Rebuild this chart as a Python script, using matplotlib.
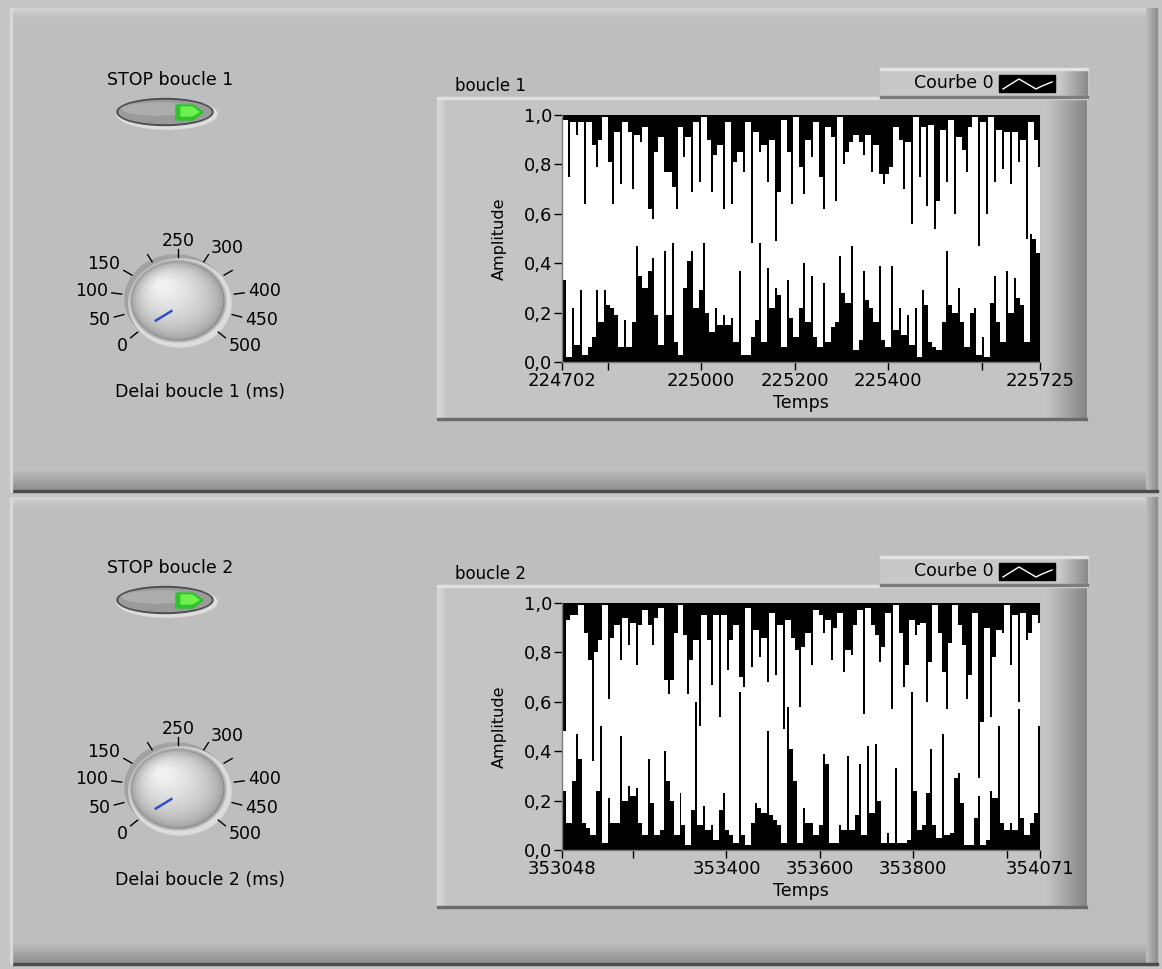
import numpy as np
import matplotlib
matplotlib.use("Agg")
import matplotlib.pyplot as plt
import matplotlib.colors as mcolors
from matplotlib.patches import Rectangle, Ellipse, Polygon

plt.rcParams["font.family"] = ["DejaVu Sans"]

# ---- data (upper / lower envelope per column) ----
hi_1 = [0.98, 0.75, 0.97, 0.92, 0.97, 0.64, 0.97, 0.88, 0.79, 0.90,
        0.99, 0.81, 0.64, 0.93, 0.72, 0.97, 0.93, 0.70, 0.92, 0.89,
        0.95, 0.62, 0.58, 0.85, 0.91, 0.77, 0.77, 0.71, 0.62, 0.95,
        0.83, 0.91, 0.69, 0.97, 0.73, 0.99, 0.90, 0.69, 0.84, 0.88,
        0.62, 0.97, 0.64, 0.81, 0.85, 0.77, 0.97, 0.48, 0.93, 0.85,
        0.88, 0.73, 0.90, 0.49, 0.69, 0.98, 0.85, 0.64, 0.99, 0.79,
        0.68, 0.90, 0.83, 0.97, 0.75, 0.62, 0.95, 0.91, 0.65, 0.99,
        0.80, 0.85, 0.89, 0.92, 0.89, 0.84, 0.92, 0.77, 0.88, 0.76,
        0.72, 0.76, 0.79, 0.95, 0.90, 0.70, 0.89, 0.56, 0.99, 0.75,
        0.95, 0.63, 0.96, 0.54, 0.65, 0.94, 0.73, 0.98, 0.60, 0.91,
        0.86, 0.77, 0.95, 0.99, 0.47, 0.97, 0.60, 0.99, 0.73, 0.94,
        0.78, 0.93, 0.72, 0.93, 0.81, 0.90, 0.50, 0.97, 0.90, 0.79]
lo_1 = [0.33, 0.02, 0.22, 0.07, 0.29, 0.03, 0.06, 0.10, 0.29, 0.16,
        0.29, 0.23, 0.22, 0.19, 0.06, 0.17, 0.06, 0.16, 0.47, 0.35,
        0.30, 0.37, 0.42, 0.19, 0.07, 0.45, 0.19, 0.48, 0.08, 0.03,
        0.30, 0.41, 0.45, 0.22, 0.29, 0.48, 0.20, 0.12, 0.22, 0.15,
        0.19, 0.15, 0.18, 0.08, 0.37, 0.03, 0.03, 0.10, 0.17, 0.48,
        0.08, 0.38, 0.22, 0.30, 0.27, 0.06, 0.33, 0.18, 0.10, 0.22,
        0.40, 0.16, 0.35, 0.10, 0.06, 0.32, 0.08, 0.14, 0.16, 0.43,
        0.28, 0.24, 0.47, 0.05, 0.09, 0.37, 0.25, 0.22, 0.16, 0.39,
        0.09, 0.06, 0.39, 0.13, 0.22, 0.11, 0.19, 0.07, 0.22, 0.02,
        0.29, 0.23, 0.08, 0.06, 0.05, 0.16, 0.45, 0.23, 0.20, 0.30,
        0.16, 0.06, 0.20, 0.22, 0.03, 0.10, 0.02, 0.24, 0.35, 0.16,
        0.08, 0.37, 0.20, 0.34, 0.26, 0.23, 0.08, 0.52, 0.50, 0.44]

hi_2 = [0.48, 0.93, 0.95, 0.95, 0.99, 0.88, 0.77, 0.36, 0.80, 0.85,
        0.99, 0.61, 0.86, 0.91, 0.77, 0.94, 0.83, 0.92, 0.75, 0.91,
        0.97, 0.91, 0.83, 0.94, 0.98, 0.69, 0.63, 0.69, 0.88, 0.99,
        0.87, 0.63, 0.77, 0.85, 0.50, 0.95, 0.85, 0.67, 0.95, 0.54,
        0.95, 0.73, 0.85, 0.91, 0.70, 0.66, 0.98, 0.74, 0.89, 0.78,
        0.86, 0.68, 0.96, 0.71, 0.91, 0.49, 0.93, 0.86, 0.81, 0.58,
        0.82, 0.88, 0.75, 0.97, 0.95, 0.88, 0.93, 0.77, 0.90, 0.96,
        0.72, 0.81, 0.79, 0.91, 0.97, 0.55, 0.98, 0.91, 0.87, 0.76,
        0.82, 0.96, 0.57, 0.99, 0.88, 0.66, 0.75, 0.93, 0.87, 0.91,
        0.92, 0.60, 0.76, 0.99, 0.88, 0.72, 0.57, 0.84, 0.99, 0.91,
        0.83, 0.61, 0.71, 0.96, 0.29, 0.52, 0.90, 0.54, 0.78, 0.89,
        0.88, 0.99, 0.75, 0.95, 0.60, 0.96, 0.85, 0.88, 0.95, 0.92]
lo_2 = [0.24, 0.11, 0.28, 0.47, 0.37, 0.11, 0.09, 0.06, 0.24, 0.50,
        0.03, 0.21, 0.11, 0.11, 0.46, 0.20, 0.26, 0.22, 0.25, 0.11,
        0.06, 0.37, 0.19, 0.06, 0.08, 0.40, 0.28, 0.20, 0.06, 0.23,
        0.10, 0.02, 0.16, 0.60, 0.10, 0.18, 0.08, 0.10, 0.04, 0.16,
        0.23, 0.08, 0.06, 0.03, 0.64, 0.06, 0.02, 0.11, 0.19, 0.17,
        0.15, 0.48, 0.14, 0.12, 0.10, 0.03, 0.58, 0.41, 0.28, 0.03,
        0.17, 0.11, 0.11, 0.06, 0.10, 0.39, 0.35, 0.03, 0.03, 0.10,
        0.08, 0.38, 0.08, 0.14, 0.35, 0.06, 0.42, 0.15, 0.43, 0.20,
        0.03, 0.07, 0.03, 0.33, 0.03, 0.03, 0.04, 0.64, 0.24, 0.08,
        0.10, 0.23, 0.41, 0.10, 0.05, 0.47, 0.06, 0.07, 0.29, 0.31,
        0.19, 0.02, 0.02, 0.13, 0.22, 0.02, 0.04, 0.24, 0.21, 0.50,
        0.11, 0.08, 0.11, 0.08, 0.57, 0.13, 0.06, 0.11, 0.15, 0.50]

t_start = [224702, 353048]
t_end = [225725, 354071]
y_ticks = [0.0, 0.2, 0.4, 0.6, 0.8, 1.0]
y_tick_labels = ["0,0", "0,2", "0,4", "0,6", "0,8", "1,0"]

knob_ticks = [0, 50, 100, 150, 200, 250, 300, 350, 400, 450, 500]
knob_labels = ["0", "50", "100", "150", "", "250", "300", "", "400", "450", "500"]
knob_values = [17, 17]

loop_names = ["boucle 1", "boucle 2"]
legend_name = "Courbe 0"

W, H = 1162, 969
PANEL_GRAY = "#bebebe"


def grad(ax, x0, x1, y0, y1, c0, c1, vertical=True, z=1):
    c0 = np.array(mcolors.to_rgb(c0))
    c1 = np.array(mcolors.to_rgb(c1))
    t = np.linspace(0, 1, 64)
    g = c0[None, :] * (1 - t[:, None]) + c1[None, :] * t[:, None]
    img = g[:, None, :] if vertical else g[None, :, :]
    ax.imshow(img, extent=(x0, x1, y1, y0), aspect="auto",
              interpolation="bilinear", zorder=z)


def draw_panel(ax, y0, y1):
    ax.add_patch(Rectangle((10, y0), 1148, y1 - y0, color=PANEL_GRAY, zorder=1))
    # bevel: light top / left, dark bottom / right
    grad(ax, 10, 1158, y0, y0 + 10, "#d6d6d6", PANEL_GRAY, z=2)
    grad(ax, 10, 1158, y1 - 22, y1 - 2, PANEL_GRAY, "#8e8e8e", z=2)
    ax.add_patch(Rectangle((10, y1 - 2), 1148, 2, color="#4c4c4c", zorder=3))
    grad(ax, 1146, 1158, y0, y1, PANEL_GRAY, "#8c8c8c", vertical=False, z=2)
    ax.add_patch(Rectangle((10, y0), 2, y1 - y0, color="#d8d8d8", zorder=3))


def draw_stop(ax, cx, cy, text):
    ax.text(cx + 5, cy - 32, text, ha="center", va="center", fontsize=12.5, zorder=5)
    ax.add_patch(Ellipse((cx + 2, cy + 2), 100, 30, color="#dedede", zorder=4))
    ax.add_patch(Ellipse((cx, cy), 96, 27, color="#4e4e4e", zorder=4))
    ax.add_patch(Ellipse((cx, cy), 92, 23, color="#9a9a9a", zorder=5))
    ax.add_patch(Ellipse((cx - 6, cy - 3), 74, 12, color="#adadad", zorder=5))
    ax.add_patch(Polygon([(cx + 11, cy - 7), (cx + 28, cy - 7), (cx + 38, cy),
                          (cx + 28, cy + 8), (cx + 11, cy + 8)],
                         closed=True, color="#2fc22f", zorder=6))
    ax.add_patch(Polygon([(cx + 16, cy - 5), (cx + 27, cy - 5), (cx + 34, cy),
                          (cx + 27, cy + 4), (cx + 16, cy + 4)],
                         closed=True, color="#6cf04c", zorder=6))


def draw_knob(ax, cx, cy, value, caption):
    rx, ry = 46, 39
    ax.add_patch(Ellipse((cx - 2, cy - 2), 2 * rx + 10, 2 * ry + 10, color="#a2a2a2", zorder=4))
    ax.add_patch(Ellipse((cx + 2, cy + 2), 2 * rx + 10, 2 * ry + 10, color="#dcdcdc", zorder=4))
    ax.add_patch(Ellipse((cx, cy), 2 * rx + 4, 2 * ry + 4, color="#b6b6b6", zorder=4))
    n = 40
    dark = np.array(mcolors.to_rgb("#8e8e8e"))
    light = np.array(mcolors.to_rgb("#f0f0f0"))
    for i in range(n):
        f = i / (n - 1)
        col = dark * (1 - f ** 0.45) + light * f ** 0.45
        ax.add_patch(Ellipse((cx - f * 0.32 * rx, cy - f * 0.38 * ry),
                             2 * rx * (1 - 0.85 * f), 2 * ry * (1 - 0.85 * f),
                             color=col, zorder=5))
    for v, lab in zip(knob_ticks, knob_labels):
        a = np.deg2rad(225 - v / 500 * 270)
        c, s = np.cos(a), np.sin(a)
        ax.plot([cx + 57 * c, cx + 67 * c], [cy - 44 * s, cy - 52 * s],
                color="black", lw=1.0, zorder=6)
        if lab:
            ha = "right" if c < -0.2 else ("left" if c > 0.2 else "center")
            ry_lab = 60 if s > 0.8 else 63
            ax.text(cx + 71 * c, cy - ry_lab * s, lab, ha=ha, va="center",
                    fontsize=12.5, zorder=6)
    a = np.deg2rad(225 - value / 500 * 270)
    c, s = np.cos(a), np.sin(a)
    ax.plot([cx + 0.15 * rx * c, cx + 0.62 * rx * c],
            [cy - 0.15 * ry * s + 6, cy - 0.62 * ry * s + 6],
            color="#2f4fc8", lw=1.8, zorder=7, solid_capstyle="butt")
    ax.text(cx + 22, cy + 91, caption, ha="center", va="center", fontsize=12.5, zorder=6)


def draw_graph_frame(ax, off, label):
    x0, x1, y0, y1 = 437, 1087, 97 + off, 420 + off
    ax.add_patch(Rectangle((x0, y0), x1 - x0, y1 - y0, color="#c4c4c4", zorder=3))
    grad(ax, x0, x0 + 10, y0, y1, "#dadada", "#c4c4c4", vertical=False, z=4)
    grad(ax, 1046, x1, y0, y1, "#c4c4c4", "#858585", vertical=False, z=4)
    ax.add_patch(Rectangle((x0, y0), x1 - x0, 2, color="#e0e0e0", zorder=5))
    ax.add_patch(Rectangle((x0, y1 - 2), x1 - x0, 2, color="#6a6a6a", zorder=5))
    ax.text(455, 86 + off, label, ha="left", va="center", fontsize=12, zorder=5)
    # legend box
    lx0, lx1, ly0, ly1 = 880, 1088, 68 + off, 98 + off
    ax.add_patch(Rectangle((lx0, ly0), lx1 - lx0, ly1 - ly0, color="#c8c8c8", zorder=5))
    grad(ax, 1060, lx1, ly0, ly1, "#c8c8c8", "#8a8a8a", vertical=False, z=6)
    ax.add_patch(Rectangle((lx0, ly0), lx1 - lx0, 2, color="#e2e2e2", zorder=6))
    ax.add_patch(Rectangle((lx0, ly1 - 2), lx1 - lx0, 2, color="#7c7c7c", zorder=6))
    ax.text(994, 83 + off, legend_name, ha="right", va="center", fontsize=12.5, zorder=7)
    ax.add_patch(Rectangle((999, 75 + off), 56, 17, color="black", zorder=7))
    ax.plot([1003, 1019, 1036, 1042, 1052], np.array([89, 79, 89, 86, 82]) + off,
            color="white", lw=1.0, zorder=8)


fig = plt.figure(figsize=(W / 100, H / 100), dpi=100)
fig.patch.set_facecolor("#c6c6c6")
bg = fig.add_axes([0, 0, 1, 1])
bg.set_axis_off()

draw_panel(bg, 8, 492)
draw_panel(bg, 497, 965)

offsets = [0, 488]
for i, off in enumerate(offsets):
    draw_stop(bg, 165, 112 + off, f"STOP {loop_names[i]}")
    draw_knob(bg, 178, 301 + off, knob_values[i], f"Delai {loop_names[i]} (ms)")
    draw_graph_frame(bg, off, loop_names[i])

bg.set_xlim(0, W)
bg.set_ylim(H, 0)

# ---- waveform graphs ----
traces = [(hi_1, lo_1), (hi_2, lo_2)]
for i, off in enumerate(offsets):
    top, bot = 115 + off, 362 + off
    ax = fig.add_axes([562 / W, 1 - bot / H, 478 / W, (bot - top) / H])
    hi = np.array(traces[i][0])
    lo = np.array(traces[i][1])
    # each column: first half shares the segment with the previous column,
    # second half is the column alone (like a connected trace)
    top_v = np.empty(2 * len(hi))
    bot_v = np.empty(2 * len(lo))
    top_v[0::2] = np.maximum(np.r_[hi[0], hi[:-1]], hi)
    top_v[1::2] = hi
    bot_v[0::2] = np.minimum(np.r_[lo[0], lo[:-1]], lo)
    bot_v[1::2] = lo
    edges = np.linspace(t_start[i], t_end[i], len(top_v) + 1)
    ax.set_facecolor("black")
    ax.fill_between(edges, np.r_[bot_v, bot_v[-1]], np.r_[top_v, top_v[-1]],
                    step="post", color="white", lw=0)
    ax.set_xlim(t_start[i], t_end[i])
    ax.set_ylim(0, 1)

    inner = list(range((t_start[i] // 200 + 1) * 200, t_end[i], 200))
    xt = [t_start[i]] + inner + [t_end[i]]
    xl = [str(t_start[i])] + [str(v) if (v - t_start[i] > 170 and t_end[i] - v > 170) else ""
                              for v in inner] + [str(t_end[i])]
    ax.set_xticks(xt)
    ax.set_xticklabels(xl, fontsize=13)
    ax.set_yticks(y_ticks)
    ax.set_yticklabels(y_tick_labels, fontsize=13)
    ax.tick_params(axis="both", direction="out", length=6, width=1, color="black", pad=1)
    ax.set_xlabel("Temps", fontsize=12.5, labelpad=3)
    ax.set_ylabel("Amplitude", fontsize=11.5, labelpad=12)
    for side in ["top", "right"]:
        ax.spines[side].set_visible(False)
    for side in ["left", "bottom"]:
        ax.spines[side].set_color("#7a7a7a")
        ax.spines[side].set_linewidth(1.0)

fig.savefig("out.png", dpi=100, facecolor=fig.get_facecolor())
